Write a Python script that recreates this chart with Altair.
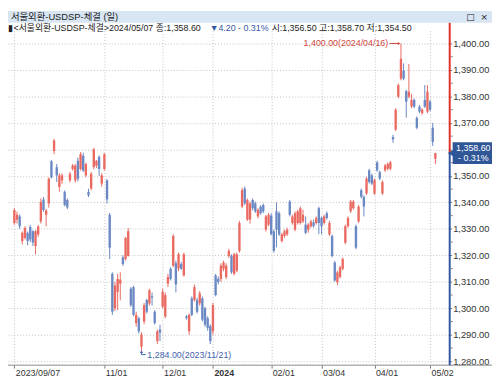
import json
import altair as alt
import pandas as pd

# ---------------- data ----------------
opens = [1332.2, 1333.4, 1334.7, 1325.4, 1326.6, 1328.5, 1330.7, 1329.1, 1323.5, 1327.9,
         1332.8, 1341.1, 1335.3, 1339.6, 1355.5, 1359.4, 1353.3, 1345.8, 1348.3, 1344.0,
         1340.9, 1348.3, 1352.6, 1348.3, 1355.7, 1352.6, 1357.6, 1350.2, 1344.0, 1345.2,
         1353.3, 1353.9, 1357.2, 1347.1, 1352.6, 1348.3, 1335.3, 1313.0, 1300.0, 1306.2,
         1309.3, 1319.2, 1318.6, 1319.8, 1307.4, 1308.0, 1294.4, 1296.2, 1285.5, 1295.0,
         1303.1, 1301.8, 1304.5, 1298.7, 1287.6, 1292.0, 1300.6, 1296.9, 1309.3, 1314.9,
         1316.1, 1317.0, 1315.0, 1316.7, 1312.4, 1296.9, 1291.3, 1303.7, 1303.1, 1303.1,
         1301.9, 1303.7, 1300.0, 1296.3, 1293.2, 1291.3, 1312.4, 1311.1, 1311.1, 1314.9,
         1311.8, 1319.8, 1319.8, 1313.0, 1314.2, 1321.7, 1338.4, 1345.2, 1333.5, 1333.5,
         1340.9, 1339.6, 1334.7, 1338.4, 1339.0, 1329.7, 1331.6, 1335.0, 1329.1, 1336.6,
         1335.9, 1325.4, 1327.3, 1327.9, 1340.3, 1332.2, 1329.7, 1332.2, 1332.2, 1332.8,
         1331.6, 1329.7, 1331.0, 1332.5, 1332.2, 1337.8, 1334.1, 1332.2, 1335.9, 1327.9,
         1327.3, 1317.3, 1309.9, 1311.8, 1314.9, 1324.8, 1331.0, 1336.6, 1337.8, 1331.0,
         1332.8, 1344.6, 1342.1, 1343.4, 1352.1, 1350.2, 1343.4, 1355.1, 1351.4, 1343.4,
         1352.1, 1352.7, 1352.7, 1364.7, 1367.5, 1379.9, 1386.7, 1389.8, 1382.0, 1379.9,
         1376.2, 1378.7, 1371.9, 1376.2, 1373.7, 1378.7, 1374.3, 1378.1, 1368.2, 1356.5]
highs = [1337.8, 1336.5, 1335.5, 1329.0, 1331.0, 1329.0, 1331.5, 1329.5, 1329.5, 1331.5,
         1341.5, 1342.0, 1337.5, 1349.5, 1356.0, 1364.0, 1354.5, 1351.0, 1351.0, 1344.5,
         1341.5, 1351.5, 1354.5, 1354.5, 1357.0, 1359.0, 1358.8, 1355.0, 1345.2, 1351.5,
         1360.5, 1356.0, 1357.7, 1351.0, 1358.6, 1348.8, 1336.0, 1313.6, 1310.0, 1313.0,
         1313.6, 1320.0, 1327.0, 1330.3, 1308.0, 1308.5, 1298.7, 1296.8, 1291.0, 1302.0,
         1303.6, 1307.4, 1306.0, 1299.3, 1292.0, 1293.8, 1307.4, 1306.0, 1313.0, 1315.5,
         1328.0, 1318.0, 1321.0, 1317.5, 1321.0, 1297.5, 1298.0, 1304.5, 1309.0, 1304.0,
         1306.5, 1304.5, 1300.6, 1297.0, 1294.0, 1302.0, 1313.0, 1312.0, 1317.0, 1318.0,
         1317.0, 1322.5, 1320.4, 1321.0, 1321.0, 1333.0, 1345.5, 1346.0, 1341.5, 1340.3,
         1341.5, 1340.3, 1337.8, 1339.0, 1339.6, 1335.3, 1336.0, 1335.9, 1329.7, 1340.0,
         1336.6, 1328.5, 1329.7, 1330.4, 1340.9, 1335.3, 1336.6, 1337.2, 1338.4, 1337.2,
         1334.7, 1332.2, 1333.5, 1333.5, 1334.7, 1338.4, 1334.7, 1335.3, 1336.6, 1333.0,
         1327.9, 1317.9, 1314.2, 1316.1, 1319.2, 1331.6, 1334.7, 1340.9, 1340.9, 1331.6,
         1339.0, 1345.2, 1342.7, 1349.6, 1352.7, 1350.8, 1349.0, 1355.7, 1352.0, 1348.3,
         1354.5, 1355.1, 1355.7, 1365.5, 1375.6, 1384.9, 1400.0, 1392.5, 1382.5, 1392.3,
         1381.0, 1379.3, 1372.5, 1376.8, 1375.6, 1384.3, 1384.3, 1378.7, 1370.0, 1358.7]
lows = [1331.5, 1332.0, 1330.0, 1324.1, 1326.0, 1323.8, 1325.0, 1323.5, 1320.4, 1327.0,
        1332.0, 1336.5, 1330.9, 1338.0, 1349.0, 1358.2, 1347.7, 1344.0, 1347.0, 1338.5,
        1337.5, 1347.5, 1352.0, 1347.5, 1348.0, 1352.0, 1351.5, 1349.5, 1342.0, 1344.5,
        1352.5, 1353.0, 1350.0, 1346.0, 1352.0, 1339.6, 1318.6, 1297.5, 1299.0, 1299.3,
        1303.0, 1316.0, 1318.0, 1319.5, 1300.5, 1297.0, 1293.0, 1290.5, 1284.0, 1294.0,
        1298.0, 1301.0, 1301.0, 1293.8, 1286.5, 1287.6, 1300.0, 1296.3, 1308.0, 1310.5,
        1315.5, 1306.0, 1314.0, 1314.5, 1312.0, 1295.7, 1290.0, 1297.0, 1302.5, 1298.0,
        1301.0, 1295.0, 1293.0, 1291.5, 1286.5, 1290.1, 1304.5, 1309.0, 1310.0, 1314.0,
        1311.0, 1319.0, 1313.0, 1312.4, 1313.6, 1321.0, 1337.8, 1339.0, 1333.0, 1332.0,
        1337.0, 1336.0, 1334.0, 1335.3, 1335.9, 1329.0, 1331.0, 1327.5, 1321.0, 1323.0,
        1327.3, 1324.8, 1326.6, 1327.3, 1334.7, 1331.6, 1329.1, 1331.6, 1331.6, 1332.2,
        1328.0, 1328.5, 1330.4, 1330.4, 1331.6, 1328.0, 1327.9, 1331.6, 1333.5, 1327.3,
        1319.2, 1310.0, 1308.7, 1311.2, 1314.3, 1324.2, 1330.4, 1336.0, 1337.2, 1322.3,
        1332.2, 1341.5, 1334.7, 1342.8, 1347.1, 1346.5, 1342.8, 1351.5, 1348.4, 1342.8,
        1351.5, 1352.1, 1352.1, 1362.5, 1366.9, 1379.3, 1386.1, 1386.1, 1372.0, 1379.3,
        1375.6, 1375.6, 1367.6, 1373.7, 1373.1, 1375.6, 1373.7, 1374.4, 1361.3, 1354.5]
closes = [1337.1, 1335.3, 1331.0, 1328.5, 1330.3, 1325.4, 1326.0, 1324.8, 1329.1, 1330.9,
          1340.2, 1337.1, 1336.9, 1348.9, 1349.5, 1363.4, 1350.2, 1350.2, 1350.2, 1339.0,
          1338.1, 1350.8, 1353.9, 1353.9, 1348.9, 1358.2, 1352.0, 1354.5, 1342.7, 1350.8,
          1360.1, 1355.7, 1352.6, 1350.2, 1358.2, 1341.1, 1322.9, 1298.7, 1308.6, 1311.1,
          1310.8, 1316.7, 1326.6, 1329.1, 1301.2, 1297.5, 1297.5, 1291.3, 1290.1, 1301.2,
          1298.7, 1306.8, 1304.0, 1294.4, 1291.3, 1290.8, 1306.2, 1305.0, 1311.8, 1311.1,
          1327.3, 1309.0, 1320.4, 1315.0, 1320.4, 1296.3, 1297.5, 1297.5, 1308.0, 1298.7,
          1305.6, 1295.7, 1293.8, 1292.6, 1287.6, 1301.2, 1305.0, 1309.9, 1316.1, 1317.3,
          1316.1, 1321.7, 1313.6, 1320.4, 1320.4, 1332.2, 1344.6, 1339.6, 1340.9, 1339.6,
          1337.8, 1336.6, 1337.2, 1335.9, 1336.6, 1334.7, 1335.3, 1328.0, 1321.7, 1329.7,
          1327.9, 1327.9, 1329.1, 1329.7, 1335.3, 1334.7, 1335.9, 1336.6, 1337.8, 1335.3,
          1328.5, 1331.6, 1332.8, 1331.0, 1334.1, 1332.2, 1331.0, 1334.7, 1334.1, 1332.2,
          1319.8, 1310.5, 1313.6, 1315.5, 1318.6, 1331.0, 1334.1, 1340.3, 1340.3, 1322.9,
          1338.4, 1342.1, 1338.4, 1349.0, 1347.7, 1347.1, 1348.4, 1352.1, 1349.0, 1347.7,
          1353.9, 1354.5, 1355.1, 1363.8, 1375.0, 1384.3, 1394.2, 1386.7, 1378.0, 1381.8,
          1378.7, 1376.2, 1368.2, 1374.3, 1375.0, 1376.2, 1381.8, 1375.0, 1362.8, 1358.6]

tick_pos = [0, 34, 56, 75, 97, 116, 136, 157]
tick_labels = ["2023/09/07", "11/01", "12/01", "2024", "02/01", "03/04", "04/01", "05/02"]
price_ticks = [1280, 1290, 1300, 1310, 1320, 1330, 1340, 1350, 1360, 1370, 1380, 1390, 1400]
minor_ticks = [1285, 1295, 1305, 1315, 1325, 1335, 1345, 1355, 1365, 1375, 1385, 1395]
hidden_label = 1360  # sits under the current-price box

last_price = 1358.60
last_price_text = "1,358.60"
last_change_text = "- 0.31%"
hi_idx, hi_val, hi_text = 146, 1400.00, "1,400.00(2024/04/16)"
lo_idx, lo_val, lo_text = 48, 1284.00, "1,284.00(2023/11/21)"

title_text = "서울외환-USDSP-체결 (일)"
info_a = "▮<서울외환-USDSP-체결>2024/05/07 종:1,358.60"
info_b = "▼4.20 - 0.31%"
info_c = "시:1,356.50 고:1,358.70 저:1,354.50"

# ---------------- styling ----------------
UP, DOWN = "#e4382f", "#3459a9"
UP_W, DOWN_W = "#ea6a62", "#6a88c3"
BOX = "#2f5697"
FONT = "Liberation Sans, Noto Sans CJK KR"

W, H = 448, 340

df = pd.DataFrame({"i": list(range(len(opens))), "open": opens, "high": highs,
                   "low": lows, "close": closes})
df["dir"] = ["up" if c >= o else "down" for o, c in zip(opens, closes)]

xscale = alt.Scale(domain=[-0.545, 162.18], nice=False, zero=False)
yscale = alt.Scale(domain=[1278.51, 1404.83], nice=False, zero=False)

label_expr = "{}[indexof({}, datum.value)]".format(json.dumps(tick_labels).replace('"', "'"),
                                                   json.dumps(tick_pos))
xaxis = alt.Axis(values=tick_pos, labelExpr=label_expr, title=None, orient="bottom",
                 grid=True, gridDash=[1, 2], gridColor="#c2c2c2", domain=False,
                 ticks=True, tickSize=3, tickColor="#777777", labelAlign="left",
                 labelOffset=1, labelPadding=0, labelBaseline="top",
                 labelFont=FONT, labelFontSize=9, labelColor="#333333",
                 labelFontWeight={"condition": {"test": "datum.value == 75", "value": "bold"},
                                  "value": "normal"},
                 labelOverlap=False, labelBound=False, labelFlush=False)
yaxis = alt.Axis(values=price_ticks, orient="right", title=None,
                 labelExpr=f"datum.value == {hidden_label} ? '' : format(datum.value, ',.2f')",
                 grid=True, gridDash=[1, 2], gridColor="#c2c2c2", domain=False,
                 ticks=True, tickSize=3, tickColor="#777777", labelPadding=1,
                 labelFont=FONT, labelFontSize=9.5, labelColor="#333333",
                 labelOverlap=False, labelBound=False, labelFlush=False)


def X(f):
    return alt.X(f"{f}:Q", scale=xscale, axis=xaxis)


def Y(f):
    return alt.Y(f"{f}:Q", scale=yscale, axis=yaxis)


color_enc = alt.Color("dir:N", scale=alt.Scale(domain=["up", "down"], range=[UP, DOWN]),
                      legend=None)
wick_color = alt.Color("dir:N", scale=alt.Scale(domain=["up", "down"], range=[UP_W, DOWN_W]),
                       legend=None)

one = pd.DataFrame({"k": [0]})

header_bg = alt.Chart(one).mark_rect(color="#d8e5f3").encode(
    x=alt.value(-8), x2=alt.value(W + 44), y=alt.value(-20), y2=alt.value(-8))
title = alt.Chart(one).mark_text(align="left", baseline="middle", font=FONT, fontSize=9.5,
                                 color="#222222").encode(
    x=alt.value(3), y=alt.value(-14), text=alt.value(title_text))
icons = alt.Chart(pd.DataFrame({"t": ["□", "×"], "px": [470, 484]})).mark_text(
    align="center", baseline="middle", font="DejaVu Sans", fontSize=9, color="#222222").encode(
    x=alt.X("px:Q", scale=None), y=alt.value(-14), text="t:N")
row_a = alt.Chart(one).mark_text(align="left", baseline="middle", font=FONT, fontSize=9,
                                 color="#222222").encode(
    x=alt.value(0.5), y=alt.value(-3), text=alt.value(info_a))
row_b = alt.Chart(one).mark_text(align="left", baseline="middle", font=FONT, fontSize=9,
                                 color="#3556a8").encode(
    x=alt.value(205), y=alt.value(-3), text=alt.value(info_b))
row_c = alt.Chart(one).mark_text(align="left", baseline="middle", font=FONT, fontSize=9,
                                 color="#222222").encode(
    x=alt.value(268), y=alt.value(-3), text=alt.value(info_c))

wicks = alt.Chart(df).mark_rule(strokeWidth=1).encode(
    x=X("i"), y=Y("low"), y2=alt.Y2("high"), color=wick_color)
bodies = alt.Chart(df).mark_bar(size=2.4).encode(
    x=X("i"), y=Y("open"), y2=alt.Y2("close"), color=color_enc)

pdf = pd.DataFrame({"p": [last_price]})
axis_red = alt.Chart(pdf).mark_rule(color="#e0302a", strokeWidth=2).encode(
    x=alt.value(W + 1), y=Y("p"), y2=alt.value(-8))
axis_blue = alt.Chart(pdf).mark_rule(color="#2f56a0", strokeWidth=2).encode(
    x=alt.value(W + 1), y=Y("p"), y2=alt.value(H))
minor = alt.Chart(pd.DataFrame({"m": minor_ticks})).mark_rule(color="#777777").encode(
    x=alt.value(W + 2), x2=alt.value(W + 4), y=Y("m"))
bottom_line = alt.Chart(one).mark_rule(color="#8a8a8a", strokeWidth=1).encode(
    x=alt.value(0), x2=alt.value(W + 44), y=alt.value(H))

boxdf = pd.DataFrame({"p": [last_price], "top": [last_price + 4.1],
                      "bot": [last_price - 4.1], "t1": [last_price + 2.0],
                      "t2": [last_price - 2.0]})
box = alt.Chart(boxdf).mark_rect(color=BOX).encode(
    x=alt.value(W + 4), x2=alt.value(W + 44), y=Y("top"), y2=alt.Y2("bot"))
box_tip = alt.Chart(boxdf).mark_point(shape="triangle-left", filled=True, size=50,
                                      color=BOX, opacity=1).encode(
    x=alt.value(W + 2), y=Y("p"))
box_t1 = alt.Chart(boxdf).mark_text(align="center", baseline="middle", font=FONT,
                                    fontSize=9, color="white").encode(
    x=alt.value(W + 25), y=Y("t1"), text=alt.value(last_price_text))
box_t2 = alt.Chart(boxdf).mark_text(align="center", baseline="middle", font=FONT,
                                    fontSize=9, color="white").encode(
    x=alt.value(W + 25), y=Y("t2"), text=alt.value(last_change_text))

hidf = pd.DataFrame({"i": [hi_idx], "v": [hi_val], "a": [hi_idx - 4.3], "b": [hi_idx - 0.7]})
hi_text_l = alt.Chart(hidf).mark_text(align="right", baseline="middle", font=FONT,
                                      fontSize=9, color="#d0463e", dx=-13).encode(
    x=X("i"), y=Y("v"), text=alt.value(hi_text))
hi_line = alt.Chart(hidf).mark_rule(color="#d0463e", strokeWidth=1).encode(
    x=X("a"), x2=alt.X2("b"), y=Y("v"))
hi_tip = alt.Chart(hidf).mark_point(shape="triangle-right", filled=True, size=10,
                                    color="#d0463e", opacity=1).encode(x=X("b"), y=Y("v"))

lodf = pd.DataFrame({"i": [lo_idx], "v": [lo_val], "tv": [lo_val - 1.5],
                     "tip": [lo_val - 0.4], "e": [lo_idx + 1.6]})
lo_text_l = alt.Chart(lodf).mark_text(align="left", baseline="middle", font=FONT,
                                      fontSize=9, color="#3f63ad", dx=6).encode(
    x=X("i"), y=Y("tv"), text=alt.value(lo_text))
lo_vline = alt.Chart(lodf).mark_rule(color="#3f63ad", strokeWidth=1).encode(
    x=X("i"), y=Y("tip"), y2=alt.Y2("tv"))
lo_hline = alt.Chart(lodf).mark_rule(color="#3f63ad", strokeWidth=1).encode(
    x=X("i"), x2=alt.X2("e"), y=Y("tv"))
lo_tip = alt.Chart(lodf).mark_point(shape="triangle-up", filled=True, size=10,
                                    color="#3f63ad", opacity=1).encode(x=X("i"), y=Y("tip"))

chart = alt.layer(
    wicks, bodies, header_bg, title, icons, row_a, row_b, row_c,
    bottom_line, axis_red, axis_blue, minor, box, box_tip, box_t1, box_t2,
    hi_text_l, hi_line, hi_tip, lo_text_l, lo_vline, lo_hline, lo_tip,
).properties(
    width=W, height=H,
    padding={"left": 0, "top": 20, "right": 44, "bottom": 14},
    autosize=alt.AutoSizeParams(type="none"),
    background="white",
).configure_view(stroke=None)

chart.save("out.html", embed_options={"renderer": "svg", "actions": False})
